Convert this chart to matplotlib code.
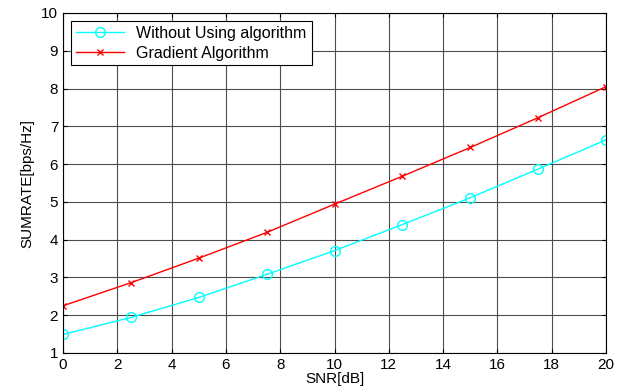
import matplotlib
matplotlib.use("Agg")
import matplotlib.pyplot as plt

plt.rcParams['font.family'] = ['Liberation Sans', 'DejaVu Sans']

snr_db = [0, 2.5, 5, 7.5, 10, 12.5, 15, 17.5, 20]
without_alg = [1.49, 1.94, 2.47, 3.08, 3.71, 4.40, 5.11, 5.87, 6.64]
gradient_alg = [2.25, 2.86, 3.51, 4.19, 4.94, 5.68, 6.44, 7.23, 8.05]

fig = plt.figure(figsize=(6.29, 3.89), dpi=100)
ax = fig.add_axes([63/629, 1 - 353/389, (606-63)/629, (353-13)/389])

ax.plot(snr_db, without_alg, '-o', color='cyan', lw=1, ms=7, mfc='none',
        mew=1, label='Without Using algorithm')
ax.plot(snr_db, gradient_alg, '-x', color='red', lw=1, ms=5, mew=1,
        label='Gradient Algorithm')

ax.set_xlim(0, 20)
ax.set_ylim(1, 10)
ax.set_xticks(range(0, 21, 2))
ax.set_yticks(range(1, 11))
ax.grid(True, color='0.3', lw=0.8)
ax.tick_params(direction='in', top=True, right=True, labelsize=11, length=3)
for s in ax.spines.values():
    s.set_linewidth(0.8)

ax.set_xlabel('SNR[dB]', fontsize=11, labelpad=0)
ax.set_ylabel('SUMRATE[bps/Hz]', fontsize=11, labelpad=5)

leg = ax.legend(loc='upper left', fontsize=11.5, fancybox=False, framealpha=1,
                edgecolor='black', borderaxespad=0.5, handlelength=3,
                borderpad=0.3, labelspacing=0.3)
leg.get_frame().set_linewidth(0.8)

fig.savefig('out.png', dpi=100)
